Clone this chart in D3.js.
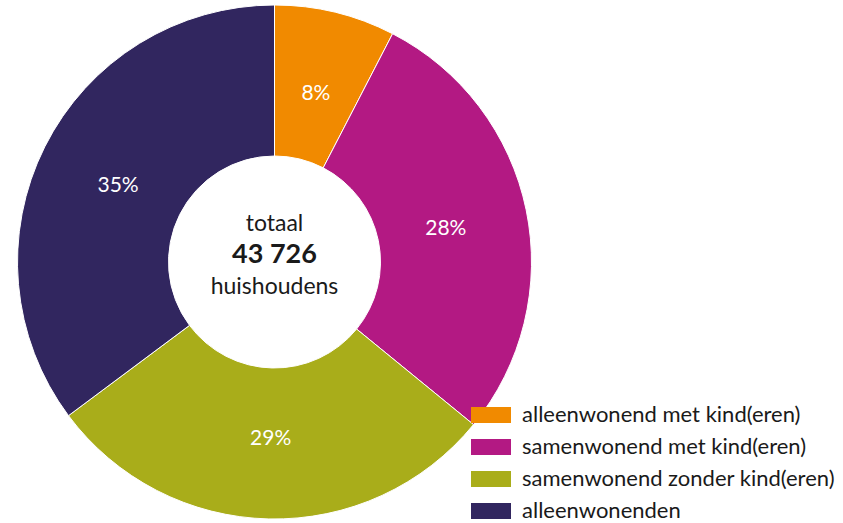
<!DOCTYPE html>
<html><head><meta charset="utf-8">
<script src="https://cdn.jsdelivr.net/npm/d3@7"></script>
<style>html,body{margin:0;padding:0;background:#fff;}svg{display:block;}</style>
</head><body>
<svg id="chart" width="843" height="523"></svg>
<script>
const categories = ["alleenwonend met kind(eren)", "samenwonend met kind(eren)", "samenwonend zonder kind(eren)", "alleenwonenden"];
const values = [3323, 12375, 12637, 15391];
const labels = ["8%", "28%", "29%", "35%"];
const colors = ["#f18a00", "#b31983", "#a9ad1a", "#31265f"];
const centerLines = ["totaal", "43 726", "huishoudens"];

const svg = d3.select("#chart");
const font = "Lato, 'Open Sans', sans-serif";
const cx = 274.5, cy = 262, rOuter = 257, rInner = 106;

const data = categories.map((c, i) => ({cat: c, value: values[i], label: labels[i], color: colors[i]}));
const pie = d3.pie().sort(null).value(d => d.value);
const arc = d3.arc().innerRadius(rInner).outerRadius(rOuter);
const labelArc = d3.arc().innerRadius(175).outerRadius(175);

const g = svg.append("g").attr("transform", `translate(${cx},${cy})`);
const arcs = pie(data);
g.selectAll("path").data(arcs).join("path")
  .attr("d", arc).attr("fill", d => d.data.color)
  .attr("stroke", "#fff").attr("stroke-width", 1);

g.selectAll("text.pct").data(arcs).join("text").attr("class", "pct")
  .attr("x", d => labelArc.centroid(d)[0])
  .attr("y", d => labelArc.centroid(d)[1])
  .attr("text-anchor", "middle").attr("dominant-baseline", "central")
  .attr("fill", "#fff").attr("font-family", font).attr("font-size", 21)
  .text(d => d.data.label);

// center text
const ct = g.append("g").attr("font-family", font).attr("fill", "#1a1a1a").attr("text-anchor", "middle");
ct.append("text").attr("y", -31).attr("font-size", 23).text(centerLines[0]);
ct.append("text").attr("y", 1).attr("font-size", 27).attr("font-weight", "bold").text(centerLines[1]);
ct.append("text").attr("y", 32).attr("font-size", 23).text(centerLines[2]);

// legend
const leg = svg.append("g").attr("transform", "translate(471,407)");
const rows = leg.selectAll("g").data(data).join("g")
  .attr("transform", (d, i) => `translate(0,${i * 32})`);
rows.append("rect").attr("width", 40).attr("height", 16).attr("fill", d => d.color);
rows.append("text").attr("x", 51).attr("y", 15).attr("font-family", font)
  .attr("font-size", 22).attr("fill", "#1a1a1a").text(d => d.cat);
</script>
</body></html>
